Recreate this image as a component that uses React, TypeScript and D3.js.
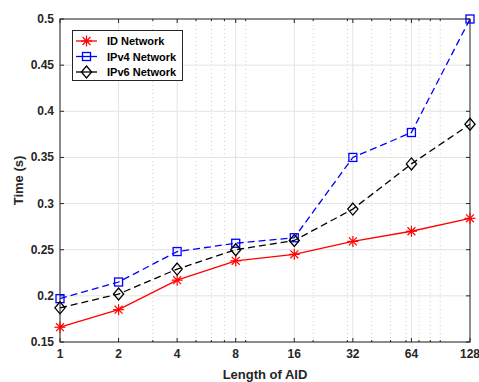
import * as d3 from "d3";

const lengths = [1, 2, 4, 8, 16, 32, 64, 128];
const idNetwork = [0.166, 0.185, 0.217, 0.238, 0.245, 0.259, 0.27, 0.284];
const ipv4Network = [0.197, 0.215, 0.248, 0.257, 0.263, 0.35, 0.377, 0.5];
const ipv6Network = [0.187, 0.202, 0.229, 0.25, 0.26, 0.294, 0.343, 0.386];
const minorTicks = [3, 5, 6, 7, 9, 20, 30, 40, 50, 60, 70, 80, 90];
const yTicks = [0.15, 0.2, 0.25, 0.3, 0.35, 0.4, 0.45, 0.5];

const W = 479;
const H = 382;
const margin = { left: 60, right: 9, top: 19, bottom: 40 };
const font = "'Liberation Sans', Arial, sans-serif";
const axisColor = "#262626";

const series = [
  { name: "ID Network", values: idNetwork, color: "#ff0000", dash: "none", marker: "star" },
  { name: "IPv4 Network", values: ipv4Network, color: "#0000ff", dash: "7,4", marker: "square" },
  { name: "IPv6 Network", values: ipv6Network, color: "#000000", dash: "7,4", marker: "diamond" },
];

function Marker({ type, x, y, color }: { type: string; x: number; y: number; color: string }) {
  if (type === "star") {
    const r = 5.5;
    const d = r * 0.72;
    return (
      <g stroke={color} strokeWidth={1.2}>
        <line x1={x - r} y1={y} x2={x + r} y2={y} />
        <line x1={x} y1={y - r} x2={x} y2={y + r} />
        <line x1={x - d} y1={y - d} x2={x + d} y2={y + d} />
        <line x1={x - d} y1={y + d} x2={x + d} y2={y - d} />
      </g>
    );
  }
  if (type === "square") {
    const s = 4;
    return <rect x={x - s} y={y - s} width={2 * s} height={2 * s} fill="none" stroke={color} strokeWidth={1.3} />;
  }
  const r = 6;
  return (
    <path
      d={`M${x},${y - r}L${x + r * 0.85},${y}L${x},${y + r}L${x - r * 0.85},${y}Z`}
      fill="none"
      stroke={color}
      strokeWidth={1.3}
    />
  );
}

export default function App() {
  const x = d3.scaleLog().base(2).domain([1, 128]).range([margin.left, W - margin.right]);
  const y = d3.scaleLinear().domain([0.15, 0.5]).range([H - margin.bottom, margin.top]);
  const [x0, x1] = x.range();
  const [y0, y1] = y.range();

  const line = d3
    .line<number>()
    .x((_, i) => x(lengths[i]))
    .y((v) => y(v));

  const tick = 4;

  return (
    <svg width={W} height={H} style={{ position: "absolute", left: 0, top: 0, background: "#fff" }}>
      {/* grid */}
      {minorTicks.map((t) => (
        <line key={"m" + t} x1={x(t)} x2={x(t)} y1={y0} y2={y1} stroke="#cfcfcf" strokeWidth={1} strokeDasharray="1,3" />
      ))}
      {lengths.map((t) => (
        <line key={"gx" + t} x1={x(t)} x2={x(t)} y1={y0} y2={y1} stroke="#e3e3e3" strokeWidth={1} />
      ))}
      {yTicks.map((t) => (
        <line key={"gy" + t} x1={x0} x2={x1} y1={y(t)} y2={y(t)} stroke="#e3e3e3" strokeWidth={1} />
      ))}

      {/* box */}
      <rect x={x0} y={y1} width={x1 - x0} height={y0 - y1} fill="none" stroke={axisColor} strokeWidth={1} />
      {lengths.map((t) => (
        <g key={"tx" + t} stroke={axisColor}>
          <line x1={x(t)} x2={x(t)} y1={y0} y2={y0 - tick} />
          <line x1={x(t)} x2={x(t)} y1={y1} y2={y1 + tick} />
        </g>
      ))}
      {minorTicks.map((t) => (
        <g key={"mt" + t} stroke={axisColor}>
          <line x1={x(t)} x2={x(t)} y1={y0} y2={y0 - 2} />
          <line x1={x(t)} x2={x(t)} y1={y1} y2={y1 + 2} />
        </g>
      ))}
      {yTicks.map((t) => (
        <g key={"ty" + t} stroke={axisColor}>
          <line x1={x0} x2={x0 + tick} y1={y(t)} y2={y(t)} />
          <line x1={x1} x2={x1 - tick} y1={y(t)} y2={y(t)} />
        </g>
      ))}

      {/* tick labels */}
      {lengths.map((t) => (
        <text key={"lx" + t} x={x(t)} y={y0 + 16} textAnchor="middle" fontFamily={font} fontWeight="bold" fontSize={12} fill={axisColor}>
          {t}
        </text>
      ))}
      {yTicks.map((t) => (
        <text key={"ly" + t} x={x0 - 6} y={y(t) + 4} textAnchor="end" fontFamily={font} fontWeight="bold" fontSize={12} fill={axisColor}>
          {String(t)}
        </text>
      ))}
      <text x={(x0 + x1) / 2} y={H - 3} textAnchor="middle" fontFamily={font} fontWeight="bold" fontSize={13} fill={axisColor}>
        Length of AID
      </text>
      <text
        transform={`translate(23,${(y0 + y1) / 2}) rotate(-90)`}
        textAnchor="middle"
        fontFamily={font}
        fontWeight="bold"
        fontSize={13}
        fill={axisColor}
      >
        Time (s)
      </text>

      {/* series */}
      {series.map((s) => (
        <g key={s.name}>
          <path d={line(s.values) ?? ""} fill="none" stroke={s.color} strokeWidth={1.3} strokeDasharray={s.dash} />
          {s.values.map((v, i) => (
            <Marker key={i} type={s.marker} x={x(lengths[i])} y={y(v)} color={s.color} />
          ))}
        </g>
      ))}

      {/* legend */}
      <g>
        <rect x={72.5} y={30.5} width={110} height={50} fill="#fff" stroke={axisColor} strokeWidth={1} />
        {series.map((s, i) => {
          const ly = 41 + i * 15.5;
          return (
            <g key={"lg" + s.name}>
              <line x1={76} x2={97} y1={ly} y2={ly} stroke={s.color} strokeWidth={1.3} />
              <Marker type={s.marker} x={86.5} y={ly} color={s.color} />
              <text x={107} y={ly + 4} fontFamily={font} fontWeight="bold" fontSize={11} fill="#000">
                {s.name}
              </text>
            </g>
          );
        })}
      </g>
    </svg>
  );
}
